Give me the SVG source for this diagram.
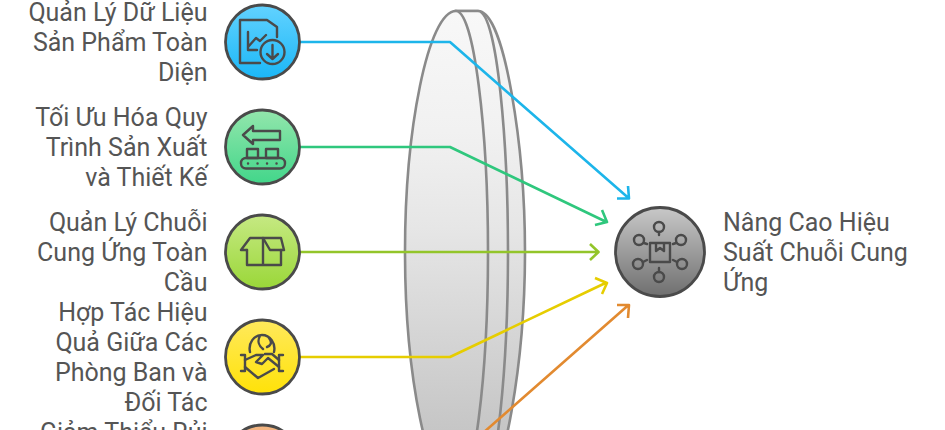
<svg xmlns="http://www.w3.org/2000/svg" width="945" height="430" viewBox="0 0 945 430">
<style>
text{font-family:Roboto,"Liberation Sans",sans-serif;font-size:25px;fill:#555}
.l{text-anchor:end}
.c{stroke:#4a4a4a;stroke-width:2.8}
.i{fill:none;stroke:#4a4a4a;stroke-width:2.4;stroke-linecap:round;stroke-linejoin:round}
.lens{stroke:#8a8a8a;stroke-width:2.6;fill:url(#gl)}
.w{fill:none;stroke-width:2.6;stroke-linejoin:round}
</style>
<defs>
<linearGradient id="gl" gradientUnits="userSpaceOnUse" x1="0" y1="11" x2="0" y2="493"><stop offset="0" stop-color="#f8f8f8"/><stop offset="0.25" stop-color="#f1f1f1"/><stop offset="0.45" stop-color="#e6e6e6"/><stop offset="1" stop-color="#bcbcbc"/></linearGradient>
<linearGradient id="g1" x1="0" y1="0" x2="0" y2="1"><stop offset="0" stop-color="#62d2ff"/><stop offset="1" stop-color="#1bb7f7"/></linearGradient>
<linearGradient id="g2" x1="0" y1="0" x2="0" y2="1"><stop offset="0" stop-color="#93e6ac"/><stop offset="1" stop-color="#42d68a"/></linearGradient>
<linearGradient id="g3" x1="0" y1="0" x2="0" y2="1"><stop offset="0" stop-color="#c6e983"/><stop offset="1" stop-color="#9ad738"/></linearGradient>
<linearGradient id="g4" x1="0" y1="0" x2="0" y2="1"><stop offset="0" stop-color="#ffe95c"/><stop offset="1" stop-color="#ffe208"/></linearGradient>
<linearGradient id="g5" x1="0" y1="0" x2="0" y2="1"><stop offset="0" stop-color="#f4b684"/><stop offset="1" stop-color="#e89040"/></linearGradient>
<linearGradient id="g6" x1="0" y1="0" x2="0" y2="1"><stop offset="0" stop-color="#c8c8c8"/><stop offset="1" stop-color="#6f6f6f"/></linearGradient>
</defs>

<g id="lens">
<path class="lens" d="M478 11C505 11 525 150 525 252C525 354 505 493 478 493H456V11Z"/>
<path class="lens" d="M478 11C498 11 508 150 508 252C508 354 498 493 478 493H456V11Z"/>
<path class="lens" d="M456 11C428 11 405 130 405 252C405 374 428 493 456 493C474 493 488 374 488 252C488 130 474 11 456 11Z"/>
</g>

<g id="connectors" class="w">
<path stroke="#1db5ea" d="M300 42H450L628.500 198M617 198.500H629L628 186"/>
<path stroke="#2fc77d" d="M300 147H450L606.500 222M595 225L607 222L602 210"/>
<path stroke="#93c52a" d="M300 252H598M590 244L598.500 252L590 260"/>
<path stroke="#e6cd00" d="M300 357H450L606.500 282.500M602 294L607 283L595 278"/>
<path stroke="#e28a30" d="M300 462H450L628.500 305M617 305H629L628 318"/>
</g>

<g id="node1">
<circle class="c" cx="262.500" cy="42" r="37" fill="url(#g1)"/>
<path class="i" d="M260 63H240V20H267L277 27V37"/>
<path class="i" d="M248 32V50H257M248 47L256 38L260 41L266 35"/>
<circle class="i" cx="272.500" cy="52" r="12"/>
<path class="i" d="M272.500 45V59M267 54L272.500 59L278 54"/>
<text class="l" x="207.500" y="21">Quản Lý Dữ Liệu</text>
<text class="l" x="207.500" y="51">Sản Phẩm Toàn</text>
<text class="l" x="207.500" y="81">Diện</text>
</g>

<g id="node2">
<circle class="c" cx="262.500" cy="147" r="37" fill="url(#g2)"/>
<path class="i" d="M253 126L243 135L253 144V140H280V131H253Z"/>
<path class="i" d="M247 149H258V158H247ZM266 149H278V158H266Z"/>
<rect class="i" x="241" y="158" width="44" height="10.500" rx="5"/>
<path class="i" d="M248 163.500h.1M257.500 163.500h.1M267 163.500h.1M276.500 163.500h.1"/>
<text class="l" x="207.500" y="126">Tối Ưu Hóa Quy</text>
<text class="l" x="207.500" y="156">Trình Sản Xuất</text>
<text class="l" x="207.500" y="186">và Thiết Kế</text>
</g>

<g id="node3">
<circle class="c" cx="262.500" cy="252" r="37" fill="url(#g3)"/>
<path class="i" d="M247 250V265H281V250M263 238V265"/>
<path class="i" d="M247 250H241L250 238H281L284 250H270L263 238"/>
<text class="l" x="207.500" y="231">Quản Lý Chuỗi</text>
<text class="l" x="207.500" y="261">Cung Ứng Toàn</text>
<text class="l" x="207.500" y="291">Cầu</text>
</g>

<g id="node4">
<circle class="c" cx="262.500" cy="357" r="37" fill="url(#g4)"/>
<path class="i" d="M250 352C248 343 254 335 262 335C270 335 276 343 274 352M260 336C257 341 259 346 263 349M269 338C273 343 270 346 267 347"/>
<path class="i" d="M241 355H245V371H241M283 355H279V371H283"/>
<path class="i" d="M245 360L256 355H263L256 362L262 364L268 358L279 367M265 354L272 354L279 360M245 367L258 378L274 369"/>
<text class="l" x="207.500" y="321">Hợp Tác Hiệu</text>
<text class="l" x="207.500" y="351">Quả Giữa Các</text>
<text class="l" x="207.500" y="381">Phòng Ban và</text>
<text class="l" x="207.500" y="411">Đối Tác</text>
</g>

<g id="node5">
<circle class="c" cx="262.500" cy="462" r="37" fill="url(#g5)"/>
<text class="l" x="207.500" y="441">Giảm Thiểu Rủi</text>
</g>

<g id="target">
<circle class="c" cx="660" cy="252" r="44.500" fill="url(#g6)"/>
<path class="i" d="M650 243H670V262H650ZM656 243V251L660 248L664 251V243"/>
<circle class="i" cx="659" cy="227" r="5"/><path class="i" d="M659 232V235"/>
<circle class="i" cx="639" cy="240" r="5"/><path class="i" d="M644 243L647 244"/>
<circle class="i" cx="681" cy="240" r="5"/><path class="i" d="M676 243L673 244"/>
<circle class="i" cx="638" cy="264" r="5"/><path class="i" d="M643 262L647 260"/>
<circle class="i" cx="682" cy="264" r="5"/><path class="i" d="M677 262L673 260"/>
<circle class="i" cx="659" cy="277" r="5"/><path class="i" d="M659 272V268"/>
<text x="723" y="231">Nâng Cao Hiệu</text>
<text x="723" y="261">Suất Chuỗi Cung</text>
<text x="723" y="291">Ứng</text>
</g>
</svg>
